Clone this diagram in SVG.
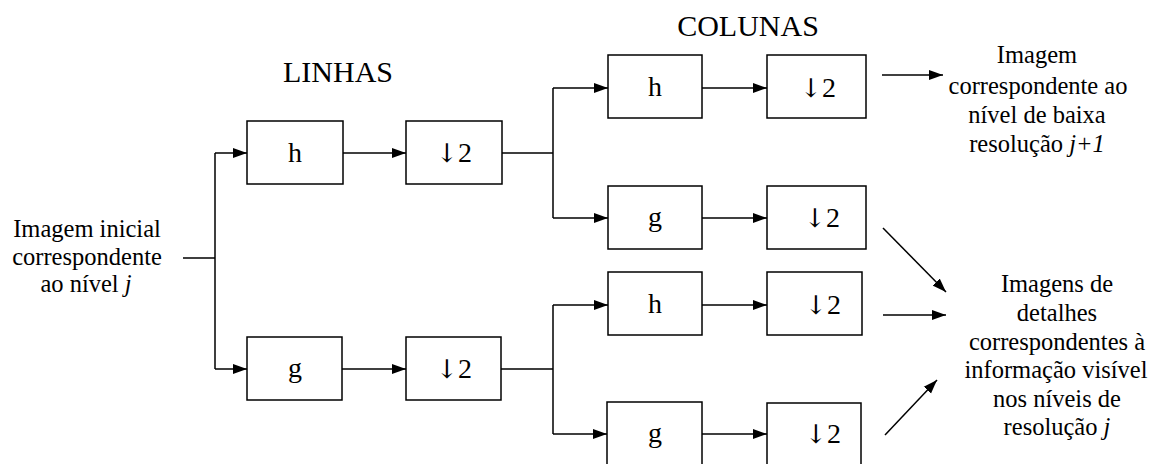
<svg xmlns="http://www.w3.org/2000/svg" width="1153" height="464" viewBox="0 0 1153 464">
  <style>
    .box { fill: #fff; stroke: #000; stroke-width: 1.5; }
    .lbl { font-family: "Liberation Serif", "DejaVu Serif", serif; font-size: 28px; fill: #000; text-anchor: middle; }
    .dn { font-family: "DejaVu Serif", "DejaVu Sans", serif; font-size: 26px; }
    .hdr { font-family: "Liberation Serif", "DejaVu Serif", serif; font-size: 30px; fill: #000; text-anchor: middle; }
    .txt { font-family: "Liberation Serif", "DejaVu Serif", serif; font-size: 24.5px; fill: #000; text-anchor: middle; }
    .ln { fill: none; stroke: #000; stroke-width: 1.5; }
    .arr { fill: none; stroke: #000; stroke-width: 1.5; marker-end: url(#head); }
    .it { font-style: italic; }
  </style>
  <defs>
    <marker id="head" markerUnits="userSpaceOnUse" markerWidth="15" markerHeight="11" refX="14" refY="5.5" orient="auto">
      <path d="M0,0.5 L14,5.5 L0,10.5 z" fill="#000"/>
    </marker>
  </defs>
  <rect width="1153" height="464" fill="#fff"/>

  <!-- headings -->
  <text class="hdr" x="338" y="82">LINHAS</text>
  <text class="hdr" x="748" y="36">COLUNAS</text>

  <!-- input label -->
  <g id="input">
    <text class="txt" x="87" y="237">Imagem inicial</text>
    <text class="txt" x="87" y="265">correspondente</text>
    <text class="txt" x="86" y="292">ao nível <tspan class="it">j</tspan></text>
  </g>

  <!-- row filters -->
  <g id="row-h"><rect class="box" x="247" y="121" width="96" height="63"/><text class="lbl" x="295" y="162">h</text></g>
  <g id="row-h-down"><rect class="box" x="406" y="121" width="96" height="63"/><text class="lbl" x="454" y="162"><tspan class="dn">↓&#xFE0E;</tspan>2</text></g>
  <g id="row-g"><rect class="box" x="247" y="337" width="95" height="63"/><text class="lbl" x="295" y="377">g</text></g>
  <g id="row-g-down"><rect class="box" x="406" y="337" width="95" height="63"/><text class="lbl" x="454" y="378"><tspan class="dn">↓&#xFE0E;</tspan>2</text></g>

  <!-- column filters, upper branch -->
  <g id="col-hh"><rect class="box" x="608" y="55" width="94" height="63"/><text class="lbl" x="655" y="96">h</text></g>
  <g id="col-hh-down"><rect class="box" x="767" y="55" width="99" height="63"/><text class="lbl" x="818" y="97"><tspan class="dn">↓&#xFE0E;</tspan>2</text></g>
  <g id="col-hg"><rect class="box" x="608" y="186" width="94" height="63"/><text class="lbl" x="655" y="226">g</text></g>
  <g id="col-hg-down"><rect class="box" x="767" y="186" width="99" height="63"/><text class="lbl" x="822" y="227"><tspan class="dn">↓&#xFE0E;</tspan>2</text></g>

  <!-- column filters, lower branch -->
  <g id="col-gh"><rect class="box" x="608" y="272" width="94" height="63"/><text class="lbl" x="655" y="313">h</text></g>
  <g id="col-gh-down"><rect class="box" x="767" y="272" width="95" height="63"/><text class="lbl" x="823" y="314"><tspan class="dn">↓&#xFE0E;</tspan>2</text></g>
  <g id="col-gg"><rect class="box" x="607" y="402" width="95" height="64"/><text class="lbl" x="655" y="442">g</text></g>
  <g id="col-gg-down"><rect class="box" x="767" y="403" width="94" height="64"/><text class="lbl" x="823" y="443"><tspan class="dn">↓&#xFE0E;</tspan>2</text></g>

  <!-- output labels -->
  <g id="out-low">
    <text class="txt" x="1037" y="63">Imagem</text>
    <text class="txt" x="1038" y="94">correspondente ao</text>
    <text class="txt" x="1037" y="123">nível de baixa</text>
    <text class="txt" x="1037" y="152">resolução <tspan class="it">j+1</tspan></text>
  </g>
  <g id="out-detail">
    <text class="txt" x="1057" y="292">Imagens de</text>
    <text class="txt" x="1057" y="321">detalhes</text>
    <text class="txt" x="1057" y="350">correspondentes à</text>
    <text class="txt" x="1056" y="378">informação visível</text>
    <text class="txt" x="1057" y="407">nos níveis de</text>
    <text class="txt" x="1057" y="435">resolução <tspan class="it">j</tspan></text>
  </g>

  <!-- connectors -->
  <g id="connectors">
    <path class="ln" d="M183,258 H215 M215,153 V369"/>
    <path class="arr" d="M215,153 H247"/>
    <path class="arr" d="M215,369 H247"/>
    <path class="arr" d="M343,153 H406"/>
    <path class="arr" d="M342,369 H406"/>

    <path class="ln" d="M502,153 H553 M553,88 V218"/>
    <path class="arr" d="M553,88 H608"/>
    <path class="arr" d="M553,218 H608"/>
    <path class="ln" d="M501,369 H553 M553,305 V434"/>
    <path class="arr" d="M553,305 H608"/>
    <path class="arr" d="M553,434 H607"/>

    <path class="arr" d="M702,88 H767"/>
    <path class="arr" d="M702,218 H767"/>
    <path class="arr" d="M702,305 H767"/>
    <path class="arr" d="M702,434 H767"/>

    <path class="arr" d="M882,75 H943"/>
    <path class="arr" d="M883,228 L946,292"/>
    <path class="arr" d="M883,315 H946"/>
    <path class="arr" d="M885,435 L937,380"/>
  </g>
</svg>
